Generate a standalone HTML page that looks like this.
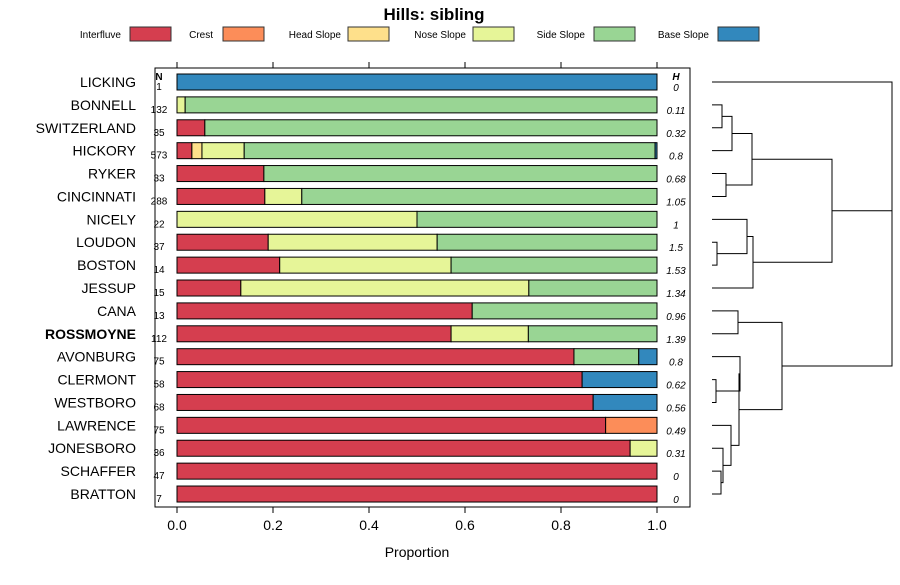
<!DOCTYPE html>
<html><head><meta charset="utf-8"><style>
body{margin:0;background:#fff;font-family:"Liberation Sans",sans-serif}
</style></head><body>
<svg id="chart" width="900" height="580" xmlns="http://www.w3.org/2000/svg" font-family="Liberation Sans, sans-serif">
<text x="434" y="20" text-anchor="middle" font-size="17" font-weight="bold">Hills: sibling</text>
<g id="legend"></g>
<rect x="155" y="68" width="535" height="439" fill="none" stroke="#000" stroke-width="1"/>
<g id="bars"></g><g id="axis"></g><g id="dendro"></g>
<text x="159" y="80" text-anchor="middle" font-size="10" font-weight="bold">N</text>
<text x="676" y="80" text-anchor="middle" font-size="10" font-weight="bold" font-style="italic">H</text>
<text x="417" y="557" text-anchor="middle" font-size="14">Proportion</text>
</svg>
<script>
const classes=["Interfluve","Crest","Head Slope","Nose Slope","Side Slope","Base Slope"];
const colors=["#D53E4F","#FC8D59","#FEE08B","#E6F598","#99D594","#3288BD"];
const series=["LICKING","BONNELL","SWITZERLAND","HICKORY","RYKER","CINCINNATI","NICELY","LOUDON","BOSTON","JESSUP","CANA","ROSSMOYNE","AVONBURG","CLERMONT","WESTBORO","LAWRENCE","JONESBORO","SCHAFFER","BRATTON"];
const nValues=[1,132,35,573,33,288,22,37,14,15,13,112,75,58,68,75,36,47,7];
const hValues=["0","0.11","0.32","0.8","0.68","1.05","1","1.5","1.53","1.34","0.96","1.39","0.8","0.62","0.56","0.49","0.31","0","0"];
const proportions=[
[0,0,0,0,0,1],
[0,0,0,0.017,0.983,0],
[0.058,0,0,0,0.942,0],
[0.031,0,0.021,0.088,0.856,0.004],
[0.181,0,0,0,0.819,0],
[0.183,0,0,0.077,0.74,0],
[0,0,0,0.5,0.5,0],
[0.19,0,0,0.352,0.458,0],
[0.214,0,0,0.357,0.429,0],
[0.133,0,0,0.6,0.267,0],
[0.615,0,0,0,0.385,0],
[0.571,0,0,0.161,0.268,0],
[0.827,0,0,0,0.135,0.038],
[0.844,0,0,0,0,0.156],
[0.867,0,0,0,0,0.133],
[0.893,0.107,0,0,0,0],
[0.944,0,0,0.056,0,0],
[1,0,0,0,0,0],
[1,0,0,0,0,0]];
const xTicks=[0,0.2,0.4,0.6,0.8,1.0];
const xTickLabels=["0.0","0.2","0.4","0.6","0.8","1.0"];
const NS="http://www.w3.org/2000/svg";
const X=v=>177+v*480, Y=i=>82+i*22.89;
function mk(t,a,p){const e=document.createElementNS(NS,t);for(const k in a)e.setAttribute(k,a[k]);p.appendChild(e);return e;}
const leg=document.getElementById('legend');
const legTx=[121,213,341,466,585,709], legRx=[130,223,348,473,594,718];
classes.forEach((c,i)=>{
 const t=mk('text',{x:legTx[i],y:38,'text-anchor':'end','font-size':10},leg);t.textContent=c;
 
 
 const r=mk('rect',{x:legRx[i],y:27,width:41,height:14,fill:colors[i],stroke:'#333'},leg);
 
 
});
const bars=document.getElementById('bars');
series.forEach((s,i)=>{
 const y=Y(i);
 const l=mk('text',{x:136,y:y+5,'text-anchor':'end','font-size':14,'font-weight':s==='ROSSMOYNE'?'bold':'normal'},bars);l.textContent=s;
 
 
 const n=mk('text',{x:159,y:y+8,'text-anchor':'middle','font-size':10},bars);n.textContent=nValues[i];
 
 
 const h=mk('text',{x:676,y:y+9,'text-anchor':'middle','font-size':10,'font-style':'italic'},bars);h.textContent=hValues[i];
 
 
 let cum=0;
 proportions[i].forEach((p,k)=>{ if(p<=0)return;
  const r=mk('rect',{x:X(cum),y:y-8,width:X(cum+p)-X(cum),height:16,fill:colors[k],stroke:'#000','stroke-width':1},bars);
  
  
  cum+=p;});
});
const ax=document.getElementById('axis');
xTicks.forEach((v,i)=>{
 const a=mk('line',{x1:X(v),x2:X(v),y1:507,y2:513,stroke:'#000'},ax);
 
 
 const b=mk('line',{x1:X(v),x2:X(v),y1:62,y2:68,stroke:'#000'},ax);
 
 
 const t=mk('text',{x:X(v),y:530,'text-anchor':'middle','font-size':14},ax);t.textContent=xTickLabels[i];
 
 
});
// dendrogram: [left,right,height]
const merges=[[1,2,722],[-1,3,732],[4,5,726],[-2,-3,752],[7,8,717],[6,-5,747],[-6,9,753],[-4,-7,832],[10,11,738],[13,14,716],[12,-10,740],[17,18,721],[16,-12,723],[15,-13,731],[-11,-14,739],[-9,-15,782],[-8,-16,892],[0,-17,892]];
const dg=document.getElementById('dendro');
const node=[];
function get(r){return r>=0?{y:Y(r),x:712}:node[-r-1];}
merges.forEach(m=>{
 const a=get(m[0]),b=get(m[1]),h=m[2];
 const p=mk('path',{d:`M${a.x},${a.y}H${h}V${b.y}H${b.x}`,fill:'none',stroke:'#000','stroke-width':1},dg);
 
 
 node.push({x:h,y:(a.y+b.y)/2});
});
</script>
</body></html>
